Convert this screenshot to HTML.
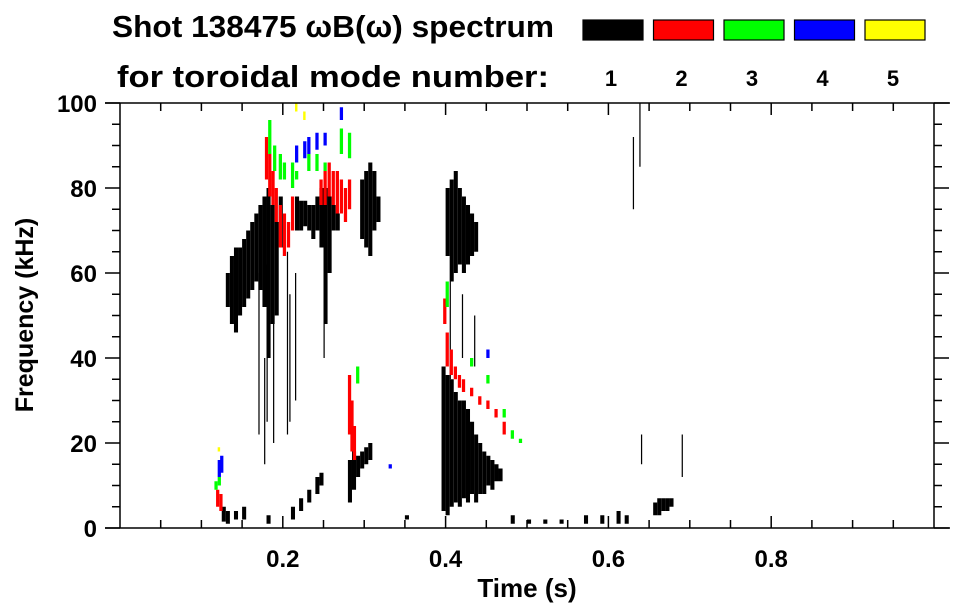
<!DOCTYPE html>
<html><head><meta charset="utf-8"><style>
body{margin:0;background:#fff;}
svg{display:block;font-family:"Liberation Sans",sans-serif;font-weight:bold;}
</style></head><body>
<svg id="chart" width="963" height="615" viewBox="0 0 963 615">
<text x="112" y="37" font-size="31" textLength="442" lengthAdjust="spacingAndGlyphs">Shot 138475 ωB(ω) spectrum</text>
<text x="117" y="87" font-size="31" textLength="432" lengthAdjust="spacingAndGlyphs">for toroidal mode number:</text>
<g id="legend"></g>
<g id="marks"></g>
<g id="axes"></g>
<text x="527" y="597" font-size="26" text-anchor="middle">Time (s)</text>
<text transform="translate(33,315) rotate(-90)" font-size="25" text-anchor="middle">Frequency (kHz)</text>
</svg>
<script>
const modeColors = ["#000000","#ff0000","#00ff00","#0000ff","#ffff00"];
const modeLabels = ["1","2","3","4","5"];
const xTicks = [0.2,0.4,0.6,0.8];
const yTicks = [0,20,40,60,80,100];
// spectral columns: [time s, low kHz, high kHz]
const mode1 = [[0.125,1.5,5],[0.13,1,4],[0.14,2,4],[0.13,52,60],[0.135,48,64],[0.14,46,66],[0.145,50,66],[0.15,52,68],[0.155,54,70],[0.16,56,72],[0.165,58,74],[0.17,56,76],[0.175,52,78],[0.18,40,80],[0.185,48,76],[0.19,50,72],
[0.195,66,78],[0.215,70,78],[0.22,70,77],[0.225,71,77],[0.23,70,76],[0.235,68,76],[0.24,70,78],[0.245,66,80],[0.25,48,80],[0.255,60,78],[0.26,70,76],[0.265,70,74],
[0.295,68,82],[0.30,66,84],[0.305,64,86],[0.31,70,84],[0.315,72,78],
[0.21,2,5],[0.22,4,7],[0.23,6,9],[0.24,8,12],[0.245,10,13],
[0.28,6,16],[0.285,9,18],[0.29,12,17],[0.295,14,18],[0.30,15,19],[0.305,16,20],
[0.40,64,80],[0.405,58,82],[0.41,60,84],[0.415,62,80],[0.42,60,78],[0.425,62,76],[0.43,64,74],[0.435,65,72],
[0.395,4,38],[0.40,3,36],[0.405,5,35],[0.41,6,32],[0.415,5,30],[0.42,7,30],[0.425,6,28],[0.43,8,25],[0.435,6,22],[0.44,8,20],[0.445,8,18],[0.45,10,17],[0.455,9,16],[0.46,11,15],[0.465,11,14],
[0.655,3,6],[0.66,3,7],[0.665,4,7],[0.67,4,7],[0.675,5,7],
[0.5,1,2],[0.54,1,2],[0.57,1,3],[0.59,1,3],[0.61,1,4],[0.62,1,3],[0.35,2,3],[0.18,1,3],[0.15,2,5],[0.48,1,3],[0.52,1,2]];
const mode1Lines = [[0.17,22,60],[0.18,25,62],[0.188,20,55],[0.205,22,65],[0.208,25,55],[0.215,30,60],[0.177,15,40],
[0.405,35,58],[0.42,40,55],[0.435,38,50],[0.63,75,92],[0.638,85,100],[0.64,15,22],[0.69,12,22],[0.25,40,60]];
const mode2 = [[0.178,82,92],[0.182,78,88],[0.186,76,84],[0.19,72,80],[0.195,66,76],[0.20,64,74],[0.205,66,72],[0.21,70,78],
[0.245,76,82],[0.25,76,84],[0.255,78,86],[0.26,76,84],[0.265,74,84],[0.27,74,82],[0.275,72,80],[0.28,75,82],
[0.118,5,9],[0.122,4,8],[0.28,22,36],[0.283,18,30],[0.286,16,24],
[0.397,48,54],[0.40,38,46],[0.405,36,42],[0.41,35,38],[0.415,33,36],[0.42,32,35],[0.43,31,33],[0.44,29,31],[0.45,28,30],[0.46,26,28],[0.47,22,25]];
const mode3 = [[0.182,88,96],[0.188,84,90],[0.195,82,88],[0.20,82,86],[0.21,80,86],[0.215,82,84],[0.23,84,88],[0.24,84,88],[0.25,84,86],[0.27,88,94],[0.28,87,93],
[0.116,9,11],[0.12,10,12],[0.29,34,38],[0.40,52,58],[0.43,38,40],[0.45,34,36],[0.47,26,28],[0.48,21,23],[0.49,20,21]];
const mode4 = [[0.12,12,16],[0.123,13,17],[0.215,86,90],[0.225,87,91],[0.23,88,92],[0.24,89,93],[0.25,90,93],[0.27,96,99],[0.33,14,15],[0.45,40,42]];
const mode5 = [[0.12,18,19],[0.215,98,100],[0.225,96,98]];

const X0=120,X1=934,Y0=528,Y1=103;
const xs = t => X0 + t*(X1-X0);
const ys = f => Y0 - f/100*(Y0-Y1);
const NS="http://www.w3.org/2000/svg";
function mk(tag,attrs,parent){const e=document.createElementNS(NS,tag);for(const k in attrs)e.setAttribute(k,attrs[k]);parent.appendChild(e);return e;}
const marks=document.getElementById('marks');
function drawCols(arr,color,dt,name){
  arr.forEach(c=>{
    const r=mk('rect',{x:xs(c[0]),y:ys(c[2]),width:xs(c[0]+dt)-xs(c[0]),height:Math.max(1,ys(c[1])-ys(c[2])),fill:color},marks);
    
    
  });
}
drawCols(mode1,modeColors[0],0.005,'mode-1-column');
drawCols(mode1Lines,modeColors[0],0.0015,'mode-1-streak');
drawCols(mode2,modeColors[1],0.004,'mode-2-column');
drawCols(mode3,modeColors[2],0.004,'mode-3-column');
drawCols(mode4,modeColors[3],0.004,'mode-4-column');
drawCols(mode5,modeColors[4],0.003,'mode-5-column');

const leg=document.getElementById('legend');
modeColors.forEach((c,i)=>{
  const r=mk('rect',{x:583+i*70.5,y:20,width:60,height:20,fill:c,stroke:'#000','stroke-width':1.2},leg);
  
  
  const t=mk('text',{x:611+i*70.5,y:86,'font-size':22,'text-anchor':'middle'},leg);
  t.textContent=modeLabels[i];
  
  
});

const ax=document.getElementById('axes');
const L={stroke:'#000','stroke-width':1.5};
mk('line',Object.assign({x1:105,y1:Y1,x2:X1+16,y2:Y1},L),ax);
mk('line',Object.assign({x1:105,y1:Y0,x2:X1+16,y2:Y0},L),ax);
mk('line',Object.assign({x1:X0,y1:Y1,x2:X0,y2:Y0},L),ax);
mk('line',Object.assign({x1:X1,y1:Y1,x2:X1,y2:Y0},L),ax);
for(let i=1;i<20;i++){const t=i*0.05,x=xs(t),len=(i%4===0)?12:8;
  mk('line',Object.assign({x1:x,y1:Y0,x2:x,y2:Y0-len},L),ax);
  mk('line',Object.assign({x1:x,y1:Y1,x2:x,y2:Y1+len},L),ax);}
for(let i=0;i<=20;i++){const f=i*5,y=ys(f),len=(i%4===0)?15:8;
  mk('line',Object.assign({x1:X0-len,y1:y,x2:X0,y2:y},L),ax);
  mk('line',Object.assign({x1:X1,y1:y,x2:X1+len,y2:y},L),ax);}
xTicks.forEach(t=>{const e=mk('text',{x:xs(t),y:567,'font-size':24,'text-anchor':'middle'},ax);e.textContent=t.toFixed(1);
  
  });
yTicks.forEach(f=>{const e=mk('text',{x:97,y:ys(f)+9,'font-size':24,'text-anchor':'end'},ax);e.textContent=f;
  
  });
</script>
</body></html>
